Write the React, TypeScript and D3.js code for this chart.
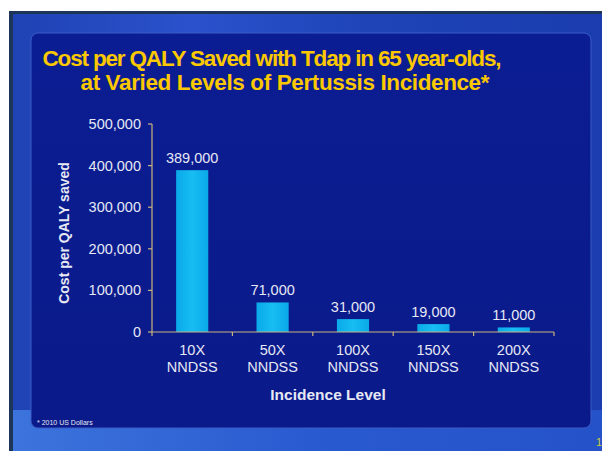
import React from "react";
import * as d3 from "d3";

const categories = ["10X\nNNDSS", "50X\nNNDSS", "100X\nNNDSS", "150X\nNNDSS", "200X\nNNDSS"];
const values = [389000, 71000, 31000, 19000, 11000];
const yTicks = [0, 100000, 200000, 300000, 400000, 500000];
const titleLines = ["Cost per QALY Saved with Tdap in 65 year-olds,", "at Varied Levels of Pertussis Incidence*"];
const yTitle = "Cost per QALY saved";
const xTitle = "Incidence Level";
const footnote = "* 2010 US Dollars";

const W = 602;
const H = 451;
const fmt = d3.format(",");

export default function App() {
  const x = d3.scaleBand<string>().domain(categories).range([152, 554]).paddingInner(0.6).paddingOuter(0.3);
  const y = d3.scaleLinear().domain([0, 500000]).range([332, 124]);
  const step = x.step();
  const [x0] = x.range();
  const font = "Arial, 'Liberation Sans', Helvetica, sans-serif";
  const textCol = "#e6e8f4";
  const axisCol = "#c9b47c";

  return (
    <svg width={W} height={H} style={{ position: "absolute", left: 0, top: 0 }} fontFamily={font}>
      <defs>
        <linearGradient id="outer" x1="0" y1="0" x2="1" y2="0">
          <stop offset="0" stopColor="#1f42b4" />
          <stop offset="0.3" stopColor="#2b52cc" />
          <stop offset="0.6" stopColor="#1e44b8" />
          <stop offset="1" stopColor="#1a3cae" />
        </linearGradient>
        <linearGradient id="bottom" x1="0" y1="0" x2="1" y2="0">
          <stop offset="0" stopColor="#3c74dc" />
          <stop offset="0.5" stopColor="#2a5ad0" />
          <stop offset="1" stopColor="#2552c8" />
        </linearGradient>
        <linearGradient id="panel" x1="0" y1="0" x2="0" y2="1">
          <stop offset="0" stopColor="#0b1d92" />
          <stop offset="1" stopColor="#0a1a8a" />
        </linearGradient>
        <linearGradient id="bar" x1="0" y1="0" x2="1" y2="0">
          <stop offset="0" stopColor="#0aa9e8" />
          <stop offset="0.5" stopColor="#17bdf3" />
          <stop offset="1" stopColor="#0aa9e8" />
        </linearGradient>
      </defs>
      <rect x={0} y={0} width={W} height={H} fill="#ffffff" />
      <rect x={9} y={11} width={W - 9} height={H - 11} fill="#1d3658" />
      <rect x={13} y={14} width={W - 13} height={H - 14} fill="url(#outer)" />
      <rect x={13} y={410} width={W - 13} height={H - 410} fill="url(#bottom)" />
      <rect x={31} y={33} width={560} height={395} rx={7} fill="url(#panel)" stroke="#3a5cc8" strokeWidth={1} />

      {titleLines.map((t, i) => (
        <text
          key={t}
          x={i === 0 ? 272 : 285}
          y={i === 0 ? 66 : 90}
          textAnchor="middle"
          fill="#fcc800"
          fontWeight="bold"
          fontSize={22.5}
          textLength={i === 0 ? 459 : 409}
          lengthAdjust="spacing"
        >
          {t}
        </text>
      ))}

      {/* bars */}
      {categories.map((c, i) => (
        <rect key={c} x={x(c)} y={y(values[i])} width={x.bandwidth()} height={y(0) - y(values[i])} fill="url(#bar)" />
      ))}
      {categories.map((c, i) => (
        <text
          key={"v" + c}
          x={(x(c) as number) + x.bandwidth() / 2}
          y={y(values[i]) - 7}
          textAnchor="middle"
          fill={textCol}
          fontSize={14.5}
        >
          {fmt(values[i])}
        </text>
      ))}

      {/* y axis */}
      <line x1={152} x2={152} y1={y(500000)} y2={y(0)} stroke={axisCol} strokeWidth={1.2} />
      {yTicks.map((t) => (
        <g key={t}>
          <line x1={148} x2={152} y1={y(t)} y2={y(t)} stroke={axisCol} strokeWidth={1.2} />
          <text x={141} y={y(t) + 5} textAnchor="end" fill={textCol} fontSize={14.5}>
            {fmt(t)}
          </text>
        </g>
      ))}
      <text
        transform={`translate(69,233) rotate(-90)`}
        textAnchor="middle"
        fill={textCol}
        fontWeight="bold"
        fontSize={14}
      >
        {yTitle}
      </text>

      {/* x axis */}
      <line x1={152} x2={554} y1={y(0)} y2={y(0)} stroke={axisCol} strokeWidth={1.2} />
      {d3.range(categories.length + 1).map((i) => (
        <line key={"xt" + i} x1={x0 + i * step} x2={x0 + i * step} y1={y(0)} y2={y(0) + 4} stroke={axisCol} strokeWidth={1.2} />
      ))}
      {categories.map((c) => (
        <text key={"xl" + c} textAnchor="middle" fill={textCol} fontSize={14.5}>
          {c.split("\n").map((ln, j) => (
            <tspan key={j} x={(x(c) as number) + x.bandwidth() / 2} y={355 + j * 16.5}>
              {ln}
            </tspan>
          ))}
        </text>
      ))}
      <text x={328} y={400} textAnchor="middle" fill={textCol} fontWeight="bold" fontSize={15.5}>
        {xTitle}
      </text>

      <text x={37} y={425} fill="#e6e8f4" fontSize={7}>
        {footnote}
      </text>
      <text x={596} y={446} fill="#c8d040" fontSize={11}>
        1
      </text>
    </svg>
  );
}
